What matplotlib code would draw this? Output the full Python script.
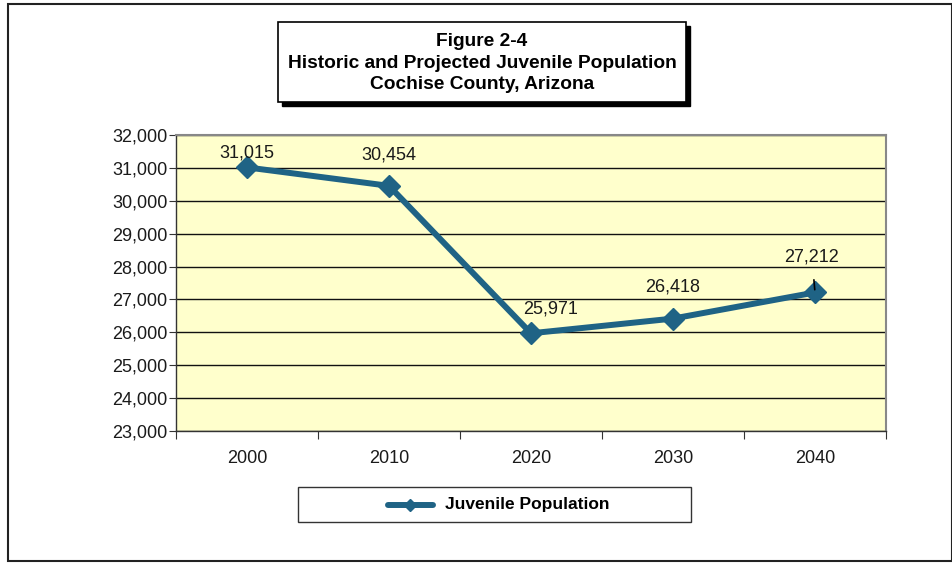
import matplotlib.pyplot as plt
from matplotlib.patches import Rectangle

# Data
years = ['2000', '2010', '2020', '2030', '2040']
population = [31015, 30454, 25971, 26418, 27212]
# label offsets (pixels) from each point
label_offsets = [(0, 14), (0, 31), (20, 24), (0, 32), (-3, 35)]

W, H = 953, 565
plt.rcParams['font.family'] = ['Liberation Sans', 'DejaVu Sans']

fig = plt.figure(figsize=(W / 100, H / 100), dpi=100)
fig.patch.set_facecolor('white')

# outer border
fig.patches.append(Rectangle((8 / W, 4 / H), 944 / W, 557 / H, transform=fig.transFigure,
                             fill=False, edgecolor='#222222', linewidth=1.5))

# plot area
left, right, top, bottom = 176, 886, 135, 431
ax = fig.add_axes([left / W, (H - bottom) / H, (right - left) / W, (bottom - top) / H])
ax.set_facecolor('#FFFFCC')

line_color = '#1F6385'
x = list(range(len(years)))
ax.plot(x, population, color=line_color, linewidth=4.3, marker='D', markersize=11,
        markeredgecolor=line_color, zorder=3, solid_joinstyle='miter')

for i, (v, off) in enumerate(zip(population, label_offsets)):
    arrow = None
    if i == len(population) - 1:
        arrow = dict(arrowstyle='-', color='black', lw=1.2, shrinkA=8, shrinkB=2)
    ax.annotate(f'{v:,}', xy=(i, v), xytext=off, textcoords='offset pixels',
                ha='center', va='center', fontsize=13, color='#1a1a1a',
                arrowprops=arrow, zorder=4)

ax.set_xlim(-0.5, len(years) - 0.5)
ax.set_ylim(23000, 32000)
ax.set_yticks(range(23000, 32001, 1000))
ax.set_yticklabels([f'{t:,}' for t in range(23000, 32001, 1000)])
ax.yaxis.grid(True, color='#111111', linewidth=1.0)
ax.set_axisbelow(True)

ax.set_xticks([i - 0.5 for i in range(len(years) + 1)])
ax.set_xticklabels([])
ax.set_xticks(x, minor=True)
ax.set_xticklabels(years, minor=True)
ax.tick_params(axis='x', which='minor', length=0, pad=14, labelsize=13, labelcolor='#1a1a1a')
ax.tick_params(axis='x', which='major', length=6, direction='out', color='#333333')
ax.tick_params(axis='y', length=5, direction='out', labelsize=13, labelcolor='#1a1a1a',
               pad=1, color='#333333')

for side in ['top', 'right']:
    ax.spines[side].set_color('#888888')
    ax.spines[side].set_linewidth(1.5)
for side in ['left', 'bottom']:
    ax.spines[side].set_color('#333333')
    ax.spines[side].set_linewidth(1.0)

# title box with shadow
tx0, ty0, tx1, ty1 = 278, 22, 686, 102
fig.patches.append(Rectangle(((tx0 + 4) / W, (H - ty1 - 4) / H), (tx1 - tx0) / W, (ty1 - ty0) / H,
                             transform=fig.transFigure, facecolor='black', edgecolor='black'))
fig.patches.append(Rectangle((tx0 / W, (H - ty1) / H), (tx1 - tx0) / W, (ty1 - ty0) / H,
                             transform=fig.transFigure, facecolor='white', edgecolor='black',
                             linewidth=1.2))
fig.text((tx0 + tx1) / 2 / W, (H - 63) / H,
         'Figure 2-4\nHistoric and Projected Juvenile Population\nCochise County, Arizona',
         ha='center', va='center', fontsize=13.8, fontweight='bold', linespacing=1.34)

# legend box
lx0, ly0, lx1, ly1 = 298, 487, 691, 522
fig.patches.append(Rectangle((lx0 / W, (H - ly1) / H), (lx1 - lx0) / W, (ly1 - ly0) / H,
                             transform=fig.transFigure, facecolor='white', edgecolor='#333333',
                             linewidth=1.0))
ly = (H - 505) / H
fig.add_artist(plt.Line2D([388 / W, 433 / W], [ly, ly], transform=fig.transFigure,
                          color=line_color, linewidth=4.3, solid_capstyle='round'))
fig.add_artist(plt.Line2D([410 / W], [ly], transform=fig.transFigure, color=line_color,
                          marker='D', markersize=6))
fig.text(445 / W, ly, 'Juvenile Population', ha='left', va='center', fontsize=12.5,
         fontweight='bold')

fig.savefig('out.png', dpi=100)
